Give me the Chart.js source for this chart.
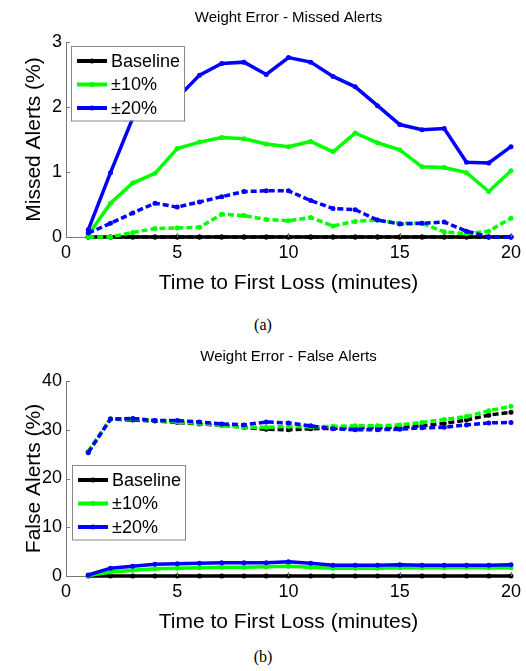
<!DOCTYPE html>
<html>
<head>
<meta charset="utf-8">
<script src="https://cdn.jsdelivr.net/npm/chart.js@4"></script>
<style>
body { margin: 0; background: #fff; width: 526px; height: 671px; position: relative; overflow: hidden; }
.panel { position: absolute; left: 0; width: 526px; height: 300px; }
.cap { position: absolute; left: 0; width: 526px; text-align: center; font-family: "Liberation Serif", "Times New Roman", serif; font-size: 16px; color: #000; }
</style>
</head>
<body>
<div class="panel" style="top:0"><canvas id="missedChart"></canvas></div>
<div class="cap" style="top:316px">(a)</div>
<div class="panel" style="top:339px"><canvas id="falseChart"></canvas></div>
<div class="cap" style="top:648px">(b)</div>
<script>
const minutes = [1, 2, 3, 4, 5, 6, 7, 8, 9, 10, 11, 12, 13, 14, 15, 16, 17, 18, 19, 20];
const seriesNames = ['Baseline', '\u00b110%', '\u00b120%'];
const seriesColors = ['#000000', '#00ff00', '#0000ff'];

// (a) missed alerts, %
const missedBaseline = [0, 0, 0, 0, 0, 0, 0, 0, 0, 0, 0, 0, 0, 0, 0, 0, 0, 0, 0, 0];
const missedBaselineDash = [0, 0, 0, 0, 0, 0, 0, 0, 0, 0, 0, 0, 0, 0, 0, 0, 0, 0, 0, 0];
const missed10 = [0.03, 0.52, 0.83, 0.98, 1.36, 1.46, 1.53, 1.51, 1.43, 1.39, 1.47, 1.31, 1.60, 1.45, 1.34, 1.08, 1.07, 0.99, 0.70, 1.02];
const missed10Dash = [0, 0, 0.07, 0.13, 0.14, 0.15, 0.35, 0.33, 0.27, 0.25, 0.30, 0.17, 0.24, 0.26, 0.21, 0.21, 0.08, 0.05, 0.09, 0.29];
const missed20 = [0.11, 0.99, 1.83, 2.00, 2.14, 2.49, 2.67, 2.69, 2.50, 2.76, 2.69, 2.47, 2.31, 2.02, 1.73, 1.65, 1.67, 1.15, 1.14, 1.39];
const missed20Dash = [0.06, 0.21, 0.37, 0.52, 0.46, 0.54, 0.62, 0.70, 0.71, 0.71, 0.56, 0.44, 0.42, 0.26, 0.20, 0.21, 0.23, 0.09, 0, 0];

// (b) false alerts, %
const falseBaseline = [0, 0, 0, 0, 0, 0, 0, 0, 0, 0, 0, 0, 0, 0, 0, 0, 0, 0, 0, 0];
const falseBaselineDash = [25.5, 32.2, 32.0, 31.8, 31.5, 31.2, 30.9, 30.5, 30.1, 30.0, 30.2, 30.3, 30.4, 30.4, 30.5, 30.8, 31.3, 32.0, 33.0, 33.6];
const false10 = [0.1, 0.8, 1.2, 1.5, 1.6, 1.7, 1.8, 1.8, 1.9, 2.0, 1.8, 1.6, 1.6, 1.6, 1.7, 1.7, 1.7, 1.8, 1.7, 1.7];
const false10Dash = [25.5, 32.2, 32.2, 31.9, 31.6, 31.3, 30.9, 30.5, 30.5, 30.7, 30.6, 30.7, 30.8, 30.8, 31.0, 31.5, 32.1, 32.7, 33.9, 34.8];
const false20 = [0.2, 1.6, 2.0, 2.4, 2.5, 2.6, 2.7, 2.7, 2.7, 2.9, 2.6, 2.2, 2.2, 2.2, 2.3, 2.2, 2.2, 2.2, 2.2, 2.3];
const false20Dash = [25.3, 32.2, 32.3, 31.9, 31.9, 31.6, 31.2, 31.0, 31.6, 31.4, 30.8, 30.2, 30.0, 30.0, 30.1, 30.4, 30.5, 31.0, 31.4, 31.5];

const xTicks = [0, 5, 10, 15, 20];
const missedTicks = [0, 1, 2, 3];
const falseTicks = [0, 10, 20, 30, 40];

const sans = '"Liberation Sans", Arial, Helvetica, sans-serif';

function makeSet(values, idx, dashed) {
    return {
        label: seriesNames[idx] + (dashed ? ' dashed' : ''),
        data: minutes.map((m, i) => ({x: m, y: values[i]})),
        borderColor: seriesColors[idx],
        backgroundColor: seriesColors[idx],
        borderWidth: 3.5,
        borderDash: dashed ? [6, 3] : [],
        pointRadius: 2.5,
        pointBorderWidth: 0,
        pointHoverRadius: 2.5,
        tension: 0,
        clip: false,
        order: 6 - idx * 2 - (dashed ? 1 : 0),
        inLegend: !dashed
    };
}

// title centred over the plot area, not the whole canvas
const areaTitle = {
    id: 'areaTitle',
    afterDraw(chart, args, opts) {
        const c = chart.ctx, a = chart.chartArea;
        c.save();
        c.font = '15px ' + sans;
        c.fillStyle = '#000';
        c.textAlign = 'center';
        c.textBaseline = 'middle';
        c.fillText(opts.text, (a.left + a.right) / 2, 18);
        c.restore();
    }
};

// small inward tick marks, matlab style
const innerTicks = {
    id: 'innerTicks',
    afterDatasetsDraw(chart) {
        const c = chart.ctx, a = chart.chartArea;
        const xs = chart.scales.x, ys = chart.scales.y;
        c.save();
        c.strokeStyle = '#777';
        c.lineWidth = 1;
        c.beginPath();
        ys.ticks.forEach(t => {
            const py = Math.round(ys.getPixelForValue(t.value)) + 0.5;
            c.moveTo(a.left, py);
            c.lineTo(a.left + 4, py);
        });
        xs.ticks.forEach(t => {
            const px = Math.round(xs.getPixelForValue(t.value)) + 0.5;
            c.moveTo(px, a.bottom);
            c.lineTo(px, a.bottom - 4);
        });
        c.stroke();
        c.restore();
    }
};

// legend box drawn inside the plot area, like the original figure
const boxLegend = {
    id: 'boxLegend',
    afterDatasetsDraw(chart, args, opts) {
        const c = chart.ctx, a = chart.chartArea;
        const x = a.left + opts.dx, y = a.top + opts.dy;
        const w = 113, rowH = 23.5, h = rowH * 3 + 4;
        c.save();
        c.fillStyle = '#fff';
        c.fillRect(x, y, w, h);
        c.strokeStyle = '#888';
        c.lineWidth = 1;
        c.strokeRect(x + 0.5, y + 0.5, w, h);
        c.font = '18px ' + sans;
        c.textBaseline = 'middle';
        chart.data.datasets.filter(d => d.inLegend).forEach((d, i) => {
            const cy = y + 15 + i * rowH;
            c.strokeStyle = d.borderColor;
            c.lineWidth = 4;
            c.beginPath();
            c.moveTo(x + 6, cy);
            c.lineTo(x + 36, cy);
            c.stroke();
            c.fillStyle = d.borderColor;
            c.beginPath();
            c.arc(x + 21, cy, 2.5, 0, Math.PI * 2);
            c.fill();
            c.fillStyle = '#000';
            c.fillText(seriesNames[i], x + 40, cy + 1);
        });
        c.restore();
    }
};

function buildChart(id, title, yLabel, yTicks, sets, legendPos) {
    const yMax = yTicks[yTicks.length - 1];
    return new Chart(document.getElementById(id), {
        type: 'line',
        data: { datasets: sets },
        options: {
            responsive: true,
            maintainAspectRatio: false,
            animation: false,
            events: [],
            layout: { padding: { left: 0, right: 12, top: 42, bottom: 0 } },
            plugins: {
                legend: { display: false },
                tooltip: { enabled: false },
                title: { display: false },
                areaTitle: { text: title },
                boxLegend: legendPos
            },
            scales: {
                x: {
                    type: 'linear',
                    min: 0,
                    max: 20,
                    afterBuildTicks: s => { s.ticks = xTicks.map(v => ({value: v})); },
                    afterFit: s => { s.height = 63; },
                    grid: { drawOnChartArea: false, drawTicks: false },
                    border: { color: '#777', width: 1 },
                    ticks: { color: '#000', padding: 5, font: { family: sans, size: 18 } },
                    title: {
                        display: true,
                        text: 'Time to First Loss (minutes)',
                        color: '#000',
                        font: { family: sans, size: 21 },
                        padding: { top: 0, bottom: 4 }
                    }
                },
                y: {
                    min: 0,
                    max: yMax,
                    afterBuildTicks: s => { s.ticks = yTicks.map(v => ({value: v})); },
                    afterFit: s => { s.width = 66; },
                    grid: { drawOnChartArea: false, drawTicks: false },
                    border: { color: '#777', width: 1 },
                    ticks: { color: '#000', padding: 4, font: { family: sans, size: 18 } },
                    title: {
                        display: true,
                        text: yLabel,
                        color: '#000',
                        font: { family: sans, size: 21 },
                        padding: { top: 22, bottom: 0 }
                    }
                }
            }
        },
        plugins: [innerTicks, boxLegend, areaTitle]
    });
}

buildChart('missedChart', 'Weight Error - Missed Alerts', 'Missed Alerts (%)', missedTicks, [
    makeSet(missedBaseline, 0, false),
    makeSet(missedBaselineDash, 0, true),
    makeSet(missed10, 1, false),
    makeSet(missed10Dash, 1, true),
    makeSet(missed20, 2, false),
    makeSet(missed20Dash, 2, true)
], { dx: 5, dy: 4 });

buildChart('falseChart', 'Weight Error - False Alerts', 'False Alerts (%)', falseTicks, [
    makeSet(falseBaseline, 0, false),
    makeSet(falseBaselineDash, 0, true),
    makeSet(false10, 1, false),
    makeSet(false10Dash, 1, true),
    makeSet(false20, 2, false),
    makeSet(false20Dash, 2, true)
], { dx: 6, dy: 84 });
</script>
</body>
</html>
